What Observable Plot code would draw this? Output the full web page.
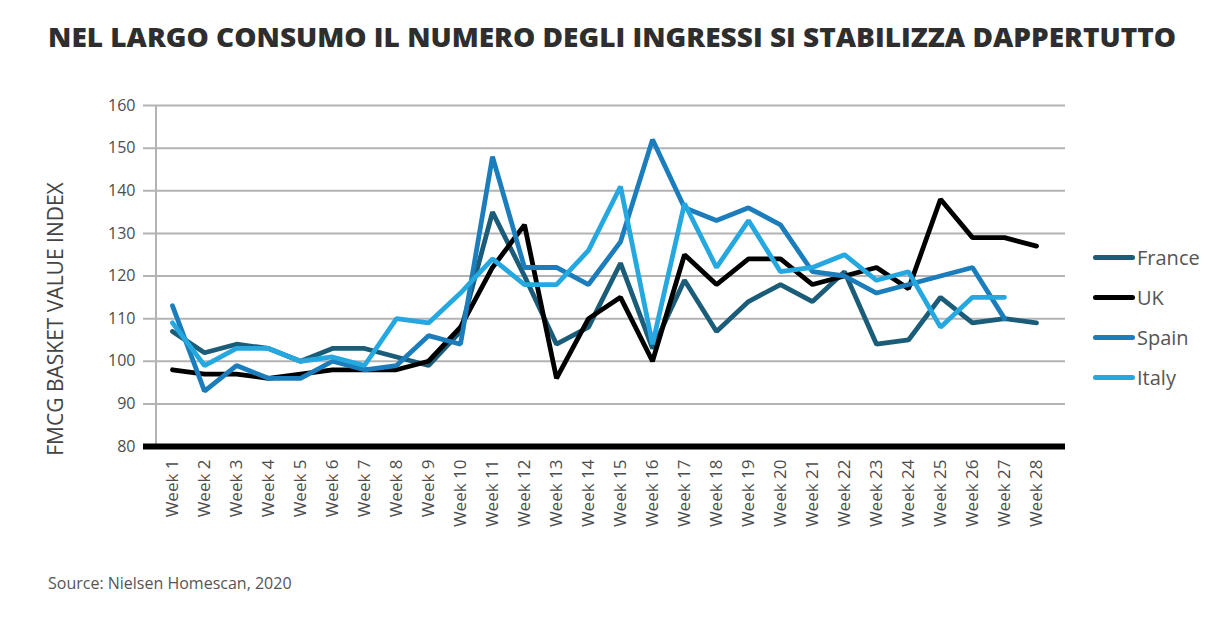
<!DOCTYPE html>
<html>
<head>
<meta charset="utf-8">
<script src="https://cdn.jsdelivr.net/npm/d3@7"></script>
<script src="https://cdn.jsdelivr.net/npm/@observablehq/plot@0.6"></script>
<style>
  html, body { margin: 0; padding: 0; background: #fff; }
  #wrap { position: relative; width: 1224px; height: 617px; overflow: hidden; font-family: "Open Sans", sans-serif; }
  #title { position: absolute; top: 19px; left: 0; width: 1224px; text-align: center; white-space: nowrap;
           font-family: "Open Sans", sans-serif; font-weight: 800; font-size: 26px; color: #2e2e2e; }
  #title span { display: inline-block; transform-origin: center; }
  #ylabel { position: absolute; left: 55px; top: 319px; transform: translate(-50%, -50%) rotate(-90deg);
            white-space: nowrap; font-size: 21px; color: #444; }
  #chart { position: absolute; left: 0; top: 70px; }
  #legend { position: absolute; left: 1093px; top: 237px; }
  .item { display: flex; align-items: center; height: 40px; font-size: 20px; color: #555; }
  .swatch { width: 42px; height: 5px; border-radius: 3px; margin-right: 2px; }
  #caption { position: absolute; left: 48px; top: 572px; font-size: 16px; color: #555; }
</style>
</head>
<body>
<div id="wrap">
  <div id="title"><span>NEL LARGO CONSUMO IL NUMERO DEGLI INGRESSI SI STABILIZZA DAPPERTUTTO</span></div>
  <div id="ylabel">FMCG BASKET VALUE INDEX</div>
  <div id="chart"></div>
  <div id="legend"></div>
  <div id="caption">Source: Nielsen Homescan, 2020</div>
</div>
<script>
const weeks = ["Week 1","Week 2","Week 3","Week 4","Week 5","Week 6","Week 7","Week 8","Week 9","Week 10",
  "Week 11","Week 12","Week 13","Week 14","Week 15","Week 16","Week 17","Week 18","Week 19","Week 20",
  "Week 21","Week 22","Week 23","Week 24","Week 25","Week 26","Week 27","Week 28"];
const countries = ["France", "UK", "Spain", "Italy"];
const colors = ["#1b5d79", "#000000", "#1b7dbb", "#25a8e0"];
const france = [107,102,104,103,100,103,103,101,99,107,135,120,104,108,123,103,119,107,114,118,114,121,104,105,115,109,110,109];
const uk     = [98,97,97,96,97,98,98,98,100,108,122,132,96,110,115,100,125,118,124,124,118,120,122,117,138,129,129,127];
const spain  = [113,93,99,96,96,100,98,99,106,104,148,122,122,118,128,152,136,133,136,132,121,120,116,118,120,122,110,null];
const italy  = [109,99,103,103,100,101,99,110,109,116,124,118,118,126,141,104,137,122,133,121,122,125,119,121,108,115,115,null];
const yTicks = [80, 90, 100, 110, 120, 130, 140, 150, 160];

const series = [france, uk, spain, italy];
const rows = [];
countries.forEach((c, i) => series[i].forEach((v, j) => { if (v != null) rows.push({country: c, week: weeks[j], value: v}); }));

const chart = Plot.plot({
  width: 1224,
  height: 480,
  marginTop: 35,
  marginBottom: 104,
  marginLeft: 143,
  marginRight: 159,
  style: {fontFamily: "'Open Sans', sans-serif", color: "#4d4d4d"},
  x: {type: "point", domain: weeks, padding: 0.5},
  y: {domain: [80, 160]},
  color: {domain: countries, range: colors},
  marks: [
    Plot.ruleY(yTicks.filter(d => d > 80), {stroke: "#b3b3b3", strokeWidth: 2, strokeOpacity: 1}),
    Plot.ruleX([weeks[0]], {y1: 80, y2: 160, dx: -16.5, stroke: "#b3b3b3", strokeWidth: 2}),
    Plot.axisY({ticks: yTicks, tickSize: 0, tickPadding: 8, fontSize: 16, label: null}),
    Plot.axisX({tickSize: 0, tickRotate: -90, tickPadding: 13, fontSize: 17, label: null}),
    Plot.line(rows, {x: "week", y: "value", z: "country", stroke: "country", strokeWidth: 4.8, strokeLinejoin: "miter", strokeLinecap: "round"}),
    Plot.ruleY([80], {stroke: "#000", strokeWidth: 6})
  ]
});
document.getElementById("chart").appendChild(chart);

const legend = document.getElementById("legend");
countries.forEach((c, i) => {
  const item = document.createElement("div");
  item.className = "item";
  const sw = document.createElement("div");
  sw.className = "swatch";
  sw.style.background = colors[i];
  const t = document.createElement("span");
  t.textContent = c;
  item.appendChild(sw); item.appendChild(t);
  legend.appendChild(item);
});

const span = document.querySelector("#title span");
const w = span.getBoundingClientRect().width;
span.style.transform = `scaleX(${1128 / w})`;
</script>
</body>
</html>
